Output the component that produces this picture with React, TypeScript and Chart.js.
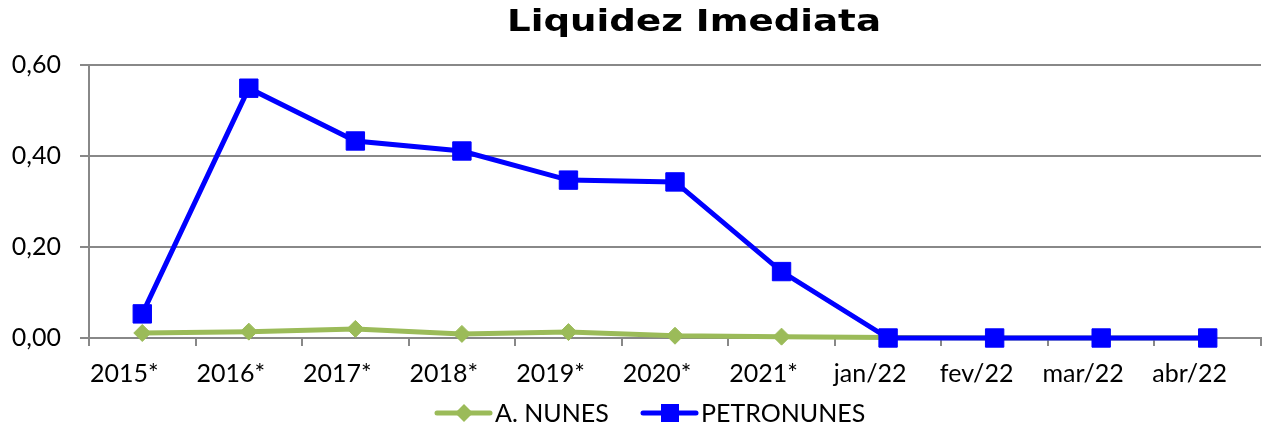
import React, { useEffect, useRef } from "react";
import { Chart, registerables } from "chart.js";

Chart.register(...registerables);

const categories = ["2015*", "2016*", "2017*", "2018*", "2019*", "2020*", "2021*", "jan/22", "fev/22", "mar/22", "abr/22"];
const aNunes = [0.011, 0.014, 0.02, 0.009, 0.013, 0.005, 0.003, 0.001, 0.0, 0.0, 0.0];
const petronunes = [0.053, 0.549, 0.433, 0.411, 0.347, 0.343, 0.146, 0.0, 0.0, 0.0, 0.0];
const yTicks = [0, 0.2, 0.4, 0.6];
const titleText = "Liquidez Imediata";
const FONT = "Lato, 'Open Sans', sans-serif";
const TITLE_FONT = "'DejaVu Sans', sans-serif";
const GREEN = "#9BBB59";
const BLUE = "#0000FF";

export default function App() {
  const ref = useRef<HTMLCanvasElement | null>(null);
  useEffect(() => {
    document.body.style.margin = "0";
    const overlay = {
      id: "overlay",
      afterDraw(chart: any) {
        const ctx = chart.ctx;
        ctx.save();
        ctx.fillStyle = "#000";
        ctx.font = `bold 31px ${TITLE_FONT}`;
        ctx.textAlign = "center";
        ctx.textBaseline = "alphabetic";
        const w = ctx.measureText(titleText).width;
        const sx = 374 / w;
        ctx.save();
        ctx.translate(694, 31);
        ctx.scale(sx, 1);
        ctx.fillText(titleText, 0, 0);
        ctx.restore();
        const xs = chart.scales.x;
        ctx.font = `25px ${FONT}`;
        ctx.textAlign = "center";
        ctx.textBaseline = "middle";
        categories.forEach((c, i) => {
          ctx.fillText(c, xs.getPixelForValue(i) - 18, 374);
        });
        ctx.textAlign = "left";
        const ly = 413;
        const items = [
          { x0: 437, label: "A. NUNES", color: GREEN, style: "diamond" },
          { x0: 643, label: "PETRONUNES", color: BLUE, style: "square" },
        ];
        for (const it of items) {
          ctx.strokeStyle = it.color;
          ctx.lineWidth = 5;
          ctx.lineCap = "round";
          ctx.beginPath();
          ctx.moveTo(it.x0, ly);
          ctx.lineTo(it.x0 + 53, ly);
          ctx.stroke();
          ctx.fillStyle = it.color;
          const cx = it.x0 + 27;
          ctx.beginPath();
          if (it.style === "diamond") {
            ctx.moveTo(cx, ly - 9);
            ctx.lineTo(cx + 9, ly);
            ctx.lineTo(cx, ly + 9);
            ctx.lineTo(cx - 9, ly);
            ctx.closePath();
          } else {
            ctx.rect(cx - 9, ly - 9, 18, 18);
          }
          ctx.fill();
          ctx.fillStyle = "#000";
          ctx.fillText(it.label, it.x0 + 58, ly + 1);
        }
        ctx.restore();
      },
    };
    const chart = new Chart(ref.current!, {
      type: "line",
      data: {
        labels: categories,
        datasets: [
          {
            label: "A. NUNES",
            data: aNunes,
            borderColor: GREEN,
            backgroundColor: GREEN,
            borderWidth: 5,
            pointStyle: "rectRot",
            pointRadius: 8.5,
            pointBorderWidth: 1,
            tension: 0,
            clip: false,
            order: 1,
          },
          {
            label: "PETRONUNES",
            data: petronunes,
            borderColor: BLUE,
            backgroundColor: BLUE,
            borderWidth: 5,
            pointStyle: "rect",
            pointRadius: 13,
            pointBorderWidth: 1,
            tension: 0,
            clip: false,
            order: 0,
          },
        ],
      },
      options: {
        animation: false,
        responsive: false,
        maintainAspectRatio: false,
        layout: { padding: { top: 65, right: 6, left: 0, bottom: 0 } },
        plugins: { legend: { display: false }, title: { display: false }, tooltip: { enabled: false } },
        scales: {
          x: {
            offset: true,
            grid: { offset: true, drawOnChartArea: false, color: "#888", tickLength: 8, lineWidth: 2 },
            border: { color: "#888", width: 2 },
            ticks: { display: false },
            afterFit: (s: any) => { s.height = 89; },
          },
          y: {
            min: 0,
            max: 0.6,
            afterBuildTicks: (s: any) => { s.ticks = yTicks.map((v) => ({ value: v })); },
            grid: { color: "#888", tickLength: 9, lineWidth: 2 },
            border: { color: "#888", width: 2 },
            ticks: {
              color: "#000",
              font: { family: FONT, size: 25 },
              padding: 19,
              callback: (v: any) => Number(v).toFixed(2).replace(".", ","),
            },
            afterFit: (s: any) => { s.width = 89; },
          },
        },
      },
      plugins: [overlay],
    });
    return () => chart.destroy();
  }, []);
  return (
    <div style={{ width: 1275, height: 427 }}>
      <canvas ref={ref} width={1275} height={427} style={{ display: "block" }} />
    </div>
  );
}
